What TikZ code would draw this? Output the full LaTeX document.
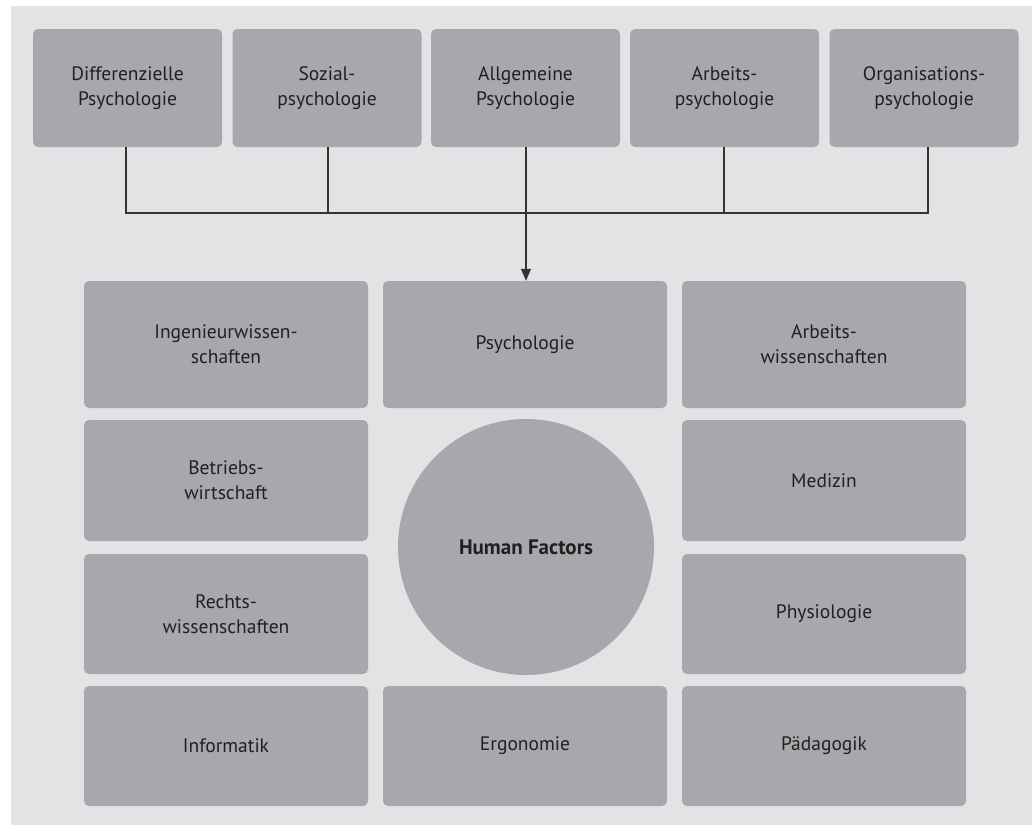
\documentclass[tikz,border=0pt]{standalone}
\usepackage{fontspec}
\setmainfont{PT Sans}
\usetikzlibrary{arrows.meta}
\definecolor{panel}{HTML}{E2E3E5}
\definecolor{boxfill}{HTML}{A7A8AB}
\definecolor{ink}{HTML}{231F20}
\definecolor{wire}{HTML}{333333}
\tikzset{
  label font/.style={font=\fontsize{19.5}{25}\selectfont},
  field/.style={fill=boxfill, rounded corners=5pt, inner sep=0pt, text=ink,
    align=center, label font, minimum width=284pt, minimum height=#1},
  field/.default=120pt,
  topfield/.style={fill=boxfill, rounded corners=5pt, inner sep=0pt, text=ink,
    align=center, label font, minimum width=189pt, minimum height=118pt},
  link/.style={draw=wire, line width=1.1pt},
}
\begin{document}
\begin{tikzpicture}[x=1pt, y=-1pt]
\useasboundingbox (0,0) rectangle (1032,825);
\fill[white] (0,0) rectangle (1032,825);
\fill[panel] (11,6) rectangle (1032,825);

% top row: branches of psychology
\node[topfield] (d1) at (127.5,88) {Differenzielle\\Psychologie};
\node[topfield] (d2) at (327,88) {Sozial-\\psychologie};
\node[topfield] (d3) at (525.5,88) {Allgemeine\\Psychologie};
\node[topfield] (d4) at (724.5,88) {Arbeits-\\psychologie};
\node[topfield] (d5) at (924,88) {Organisations-\\psychologie};

% disciplines around Human Factors
\node[field=127pt] (ing) at (226,344.5) {Ingenieurwissen-\\schaften};
\node[field=127pt] (psy) at (525,344.5) {Psychologie};
\node[field=127pt] (aw)  at (824,344.5) {Arbeits-\\wissenschaften};
\node[field=121pt] (bw)  at (226,480.5) {Betriebs-\\wirtschaft};
\node[field=121pt] (med) at (824,480.5) {Medizin};
\node[field=120pt] (rw)  at (226,614) {Rechts-\\wissenschaften};
\node[field=120pt] (phy) at (824,614) {Physiologie};
\node[field=120pt] (inf) at (226,746) {Informatik};
\node[field=120pt] (erg) at (525,746) {Ergonomie};
\node[field=120pt] (paed) at (824,746) {Pädagogik};

\node[circle, fill=boxfill, minimum size=256pt, inner sep=0pt, text=ink,
  font=\fontsize{21}{25}\selectfont\bfseries] (hf) at (526,547) {Human Factors};

% connector feet on the lower edges of the top boxes
\coordinate (f1) at ([xshift=-1.5pt]d1.south);
\coordinate (f2) at ([xshift=1pt]d2.south);
\coordinate (f3) at ([xshift=0.5pt]d3.south);
\coordinate (f4) at ([xshift=-0.5pt]d4.south);
\coordinate (f5) at ([xshift=4pt]d5.south);
\coordinate (bus) at (0,213);

% connectors
\draw[link] (f1) -- (f1 |- bus) -- (f5 |- bus) -- (f5);
\foreach \n in {f2,f4}{\draw[link] (\n) -- (\n |- bus);}
\draw[link, -{Triangle[length=12pt, width=10pt]}] (f3) -- (f3 |- psy.north);
\end{tikzpicture}
\end{document}
